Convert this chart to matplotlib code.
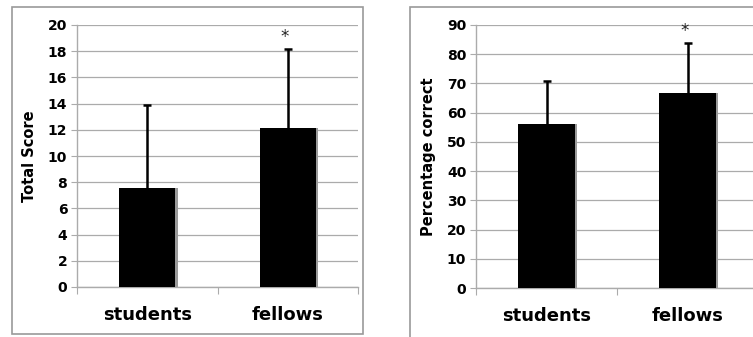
import numpy as np
import matplotlib
matplotlib.use("Agg")
import matplotlib.pyplot as plt
from matplotlib.patches import Rectangle

groups = ["students", "fellows"]
score_mean = [7.55, 12.15]
score_sd = [6.35, 6.05]
pct_mean = [56.0, 66.8]
pct_sd = [14.9, 17.1]
score_ticks = np.arange(0, 21, 2)
pct_ticks = np.arange(0, 91, 10)

W, H = 753, 337
fig = plt.figure(figsize=(W / 100, H / 100), dpi=100)
grid_col = "#ababab"


def px(x0, y0, x1, y1):
    # pixel box (top-left origin) -> figure fraction rect
    return [x0 / W, 1 - y1 / H, (x1 - x0) / W, (y1 - y0) / H]


def panel(rect, means, sds, ticks, ylabel):
    ax = fig.add_axes(rect)
    x = np.arange(len(means)) + 0.5
    # soft gray shadow on the right of each bar
    ax.bar(x + 0.018, means, width=0.4, color="#9a9a9a", zorder=2)
    ax.bar(x, means, width=0.4, color="black", zorder=3)
    eb = ax.errorbar(x, means, yerr=[np.zeros(len(sds)), sds], fmt="none",
                     ecolor="black", elinewidth=1.8, capsize=3, capthick=1.8, zorder=4)
    eb[1][0].set_visible(False)  # hide lower caps
    # significance mark over the second group
    ax.annotate("*", (x[1], means[1] + sds[1]), xytext=(-2, 2), textcoords="offset points",
                ha="center", va="bottom", fontsize=12, color="#222222")
    ax.set_xlim(0, 2)
    ax.set_ylim(ticks[0], ticks[-1])
    ax.set_yticks(ticks)
    ax.set_yticklabels([str(t) for t in ticks], fontsize=10, fontweight="bold")
    ax.set_xticks([0, 1, 2])
    ax.set_xticklabels([])
    ax.set_xticks(x, minor=True)
    ax.set_xticklabels(groups, minor=True, fontsize=13, fontweight="bold")
    ax.tick_params(axis="x", which="minor", length=0, pad=14)
    ax.tick_params(axis="x", which="major", length=5, color=grid_col, direction="out")
    ax.tick_params(axis="y", length=4, color=grid_col, pad=3)
    ax.grid(axis="y", color=grid_col, linewidth=0.9, zorder=0)
    ax.set_axisbelow(True)
    for s in ["top", "right"]:
        ax.spines[s].set_visible(False)
    for s in ["left", "bottom"]:
        ax.spines[s].set_color(grid_col)
        ax.spines[s].set_linewidth(1)
    ax.set_ylabel(ylabel, fontsize=10.5, fontweight="bold", labelpad=8)
    return ax


panel(px(77, 25, 358, 287), score_mean, score_sd, score_ticks, "Total Score")
panel(px(476, 25, 758, 288), pct_mean, pct_sd, pct_ticks, "Percentage correct")

for box in [px(12, 7, 363, 334), px(410, 7, 760, 345)]:
    fig.patches.append(Rectangle((box[0], box[1]), box[2], box[3],
                                 transform=fig.transFigure, fill=False,
                                 edgecolor="#9a9a9a", linewidth=1.2))

fig.savefig("out.png", dpi=100)
